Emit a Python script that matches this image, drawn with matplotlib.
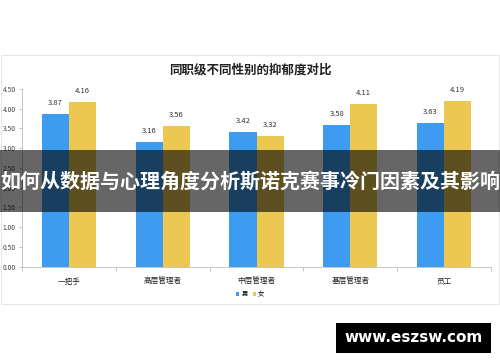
import matplotlib
matplotlib.use("Agg")
import matplotlib.pyplot as plt
from matplotlib.patches import Rectangle
import numpy as np

plt.rcParams['font.family'] = ['Noto Sans CJK SC', 'DejaVu Sans']

categories = ["一把手", "高层管理者", "中层管理者", "基层管理者", "员工"]
male = [3.87, 3.16, 3.42, 3.58, 3.63]
female = [4.16, 3.56, 3.32, 4.11, 4.19]
yticks = [0.00, 0.50, 1.00, 1.50, 2.00, 2.50, 3.00, 3.50, 4.00, 4.50]
title = "同职级不同性别的抑郁度对比"
banner = "如何从数据与心理角度分析斯诺克赛事冷门因素及其影响"
site = "www.eszsw.com"

W, H = 500, 362
fig = plt.figure(figsize=(W/100, H/100), dpi=100)
fig.patch.set_facecolor("white")

def fx(px): return px / W
def fy(py): return 1 - py / H

# chart frame
fig.patches.append(Rectangle((fx(1), fy(304)), fx(498), (304-55)/H, transform=fig.transFigure,
                             fill=False, edgecolor="#e6e6e6", linewidth=0.8, zorder=0))

ax = fig.add_axes([fx(22), fy(266.7), fx(491) - fx(22), (266.7-89)/H])
x = np.arange(len(categories))
bw = 0.288
blue = "#3d9bf0"
yellow = "#ecc752"
b1 = ax.bar(x - bw/2, male, bw, color=blue, label="男", zorder=2)
b2 = ax.bar(x + bw/2, female, bw, color=yellow, label="女", zorder=2)
for rects, vals in ((b1, male), (b2, female)):
    for r, v in zip(rects, vals):
        ax.annotate(f"{v:.2f}", (r.get_x() + r.get_width()/2, v), xytext=(0, 5),
                    textcoords="offset points", ha="center", va="bottom",
                    fontsize=5.5, color="#333333")

ax.set_xlim(-0.5, len(categories) - 0.5)
ax.set_ylim(0, 4.5)
ax.set_yticks(yticks)
ax.set_yticklabels([f"{t:.2f}" for t in yticks], fontsize=4.8, color="#444444")
ax.set_xticks(x)
ax.set_xticklabels(categories, fontsize=5.5, color="#222222")
ax.set_xticks(np.arange(len(categories) + 1) - 0.5, minor=True)
ax.tick_params(axis="x", which="major", length=0, pad=8)
ax.tick_params(axis="x", which="minor", length=3, color="#bbbbbb", width=0.6)
ax.tick_params(axis="y", length=2.5, color="#bbbbbb", width=0.6, pad=2)
for s in ("top", "right"):
    ax.spines[s].set_visible(False)
ax.spines["left"].set_color("#bbbbbb")
ax.spines["bottom"].set_color("#bbbbbb")
ax.spines["left"].set_linewidth(0.6)
ax.spines["bottom"].set_linewidth(0.6)

fig.text(0.5, fy(70), title, ha="center", va="center", fontsize=9, fontweight="bold", color="#222222")

leg = fig.legend(handles=[b1, b2], labels=["男", "女"], loc="center", bbox_to_anchor=(0.5, fy(294)),
                 ncol=2, frameon=False, fontsize=4.5, handlelength=0.6, handleheight=0.6,
                 handletextpad=0.3, columnspacing=0.8)

# banner
fig.patches.append(Rectangle((0, fy(212)), 1, (212-150)/H, transform=fig.transFigure,
                             facecolor="black", alpha=0.6, edgecolor="none", zorder=5))
fig.text(0.5, fy(181), banner, ha="center", va="center", fontsize=14.4, fontweight="bold",
         color="white", zorder=6)

# site badge
fig.patches.append(Rectangle((fx(336), fy(353)), fx(491) - fx(336), (353-323)/H, transform=fig.transFigure,
                             facecolor="black", edgecolor="none", zorder=5))
fig.text(fx(413.5), fy(338), site, ha="center", va="center", fontsize=11, fontweight="bold",
         color="white", zorder=6, family=["DejaVu Sans"])

fig.savefig("out.png", dpi=100)
